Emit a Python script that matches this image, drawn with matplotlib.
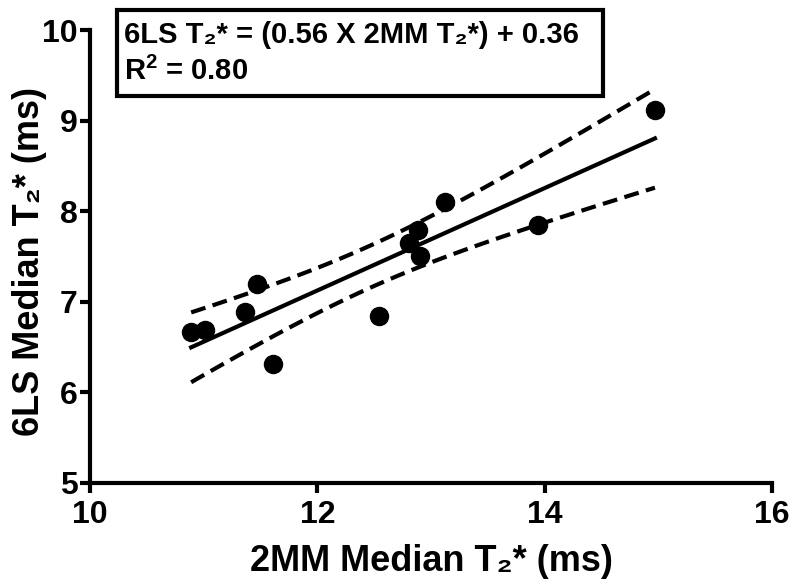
import numpy as np
import matplotlib
matplotlib.use('Agg')
import matplotlib.pyplot as plt
from matplotlib.patches import Rectangle

plt.rcParams['font.family'] = ['Liberation Sans', 'DejaVu Sans']
plt.rcParams['font.weight'] = 'bold'
plt.rcParams['mathtext.fontset'] = 'custom'
plt.rcParams['mathtext.rm'] = 'Liberation Sans:bold'
plt.rcParams['mathtext.bf'] = 'Liberation Sans:bold'

# data
mm2_t2 = [10.89, 11.01, 11.36, 11.47, 11.61, 12.54, 12.81, 12.89, 12.90, 13.12, 13.94, 14.97]
ls6_t2 = [6.67, 6.69, 6.89, 7.20, 6.31, 6.84, 7.65, 7.79, 7.50, 8.10, 7.85, 9.12]
x_ticks = [10, 12, 14, 16]
y_ticks = [5, 6, 7, 8, 9, 10]
eq_line1 = '6LS T\u2082* = (0.56 X 2MM T\u2082*) + 0.36'
eq_line2 = r'R$^\mathbf{2}$ = 0.80'

x = np.array(mm2_t2)
y = np.array(ls6_t2)

# linear fit + 95% confidence band
slope, icpt = np.polyfit(x, y, 1)
n = len(x)
resid = y - (slope * x + icpt)
s = np.sqrt(np.sum(resid ** 2) / (n - 2))
t_crit = 2.228  # t(0.975, df=10)
xs = np.linspace(x.min(), x.max(), 100)
fit = slope * xs + icpt
half = t_crit * s * np.sqrt(1 / n + (xs - x.mean()) ** 2 / np.sum((x - x.mean()) ** 2))

fig = plt.figure(figsize=(8, 5.84), dpi=100)
ax = fig.add_axes([0.1125, 0.173, 0.8525, 0.7756])

ax.plot(xs, fit, color='black', lw=3)
ax.plot(xs, fit + half, color='black', lw=3, dashes=(3.6, 1.8))
ax.plot(xs, fit - half, color='black', lw=3, dashes=(3.6, 1.8))
ax.plot(x, y, 'o', color='black', ms=13)

ax.set_xlim(10, 16)
ax.set_ylim(5, 10)
ax.set_xticks(x_ticks)
ax.set_yticks(y_ticks)
for sp in ['top', 'right']:
    ax.spines[sp].set_visible(False)
for sp in ['left', 'bottom']:
    ax.spines[sp].set_linewidth(3)
ax.tick_params(width=3, length=7, labelsize=23)
ax.tick_params(axis='x', pad=5)
ax.tick_params(axis='y', pad=2)
for lab in ax.get_xticklabels() + ax.get_yticklabels():
    lab.set_fontweight('bold')

ax.set_xlabel('2MM Median T\u2082* (ms)', fontsize=26, fontweight='bold')
ax.set_ylabel('6LS Median T\u2082* (ms)', fontsize=26, fontweight='bold', va='center')
ax.xaxis.set_label_coords(0.5, -0.135)
ax.yaxis.set_label_coords(-0.088, 0.49)

# equation box (pixel positions from the reference, 800x584)
W, H = 800, 584
fig.patches.append(Rectangle((117 / W, 1 - 96 / H), (603 - 117) / W, (96 - 10) / H,
                             transform=fig.transFigure, fc='white', ec='black', lw=3))
fig.text(124 / W, 1 - 35 / H, eq_line1, fontsize=21, fontweight='bold', va='center', ha='left')
fig.text(124 / W, 1 - 71 / H, eq_line2, fontsize=21, fontweight='bold', va='center', ha='left')

fig.savefig('out.png', dpi=100)
